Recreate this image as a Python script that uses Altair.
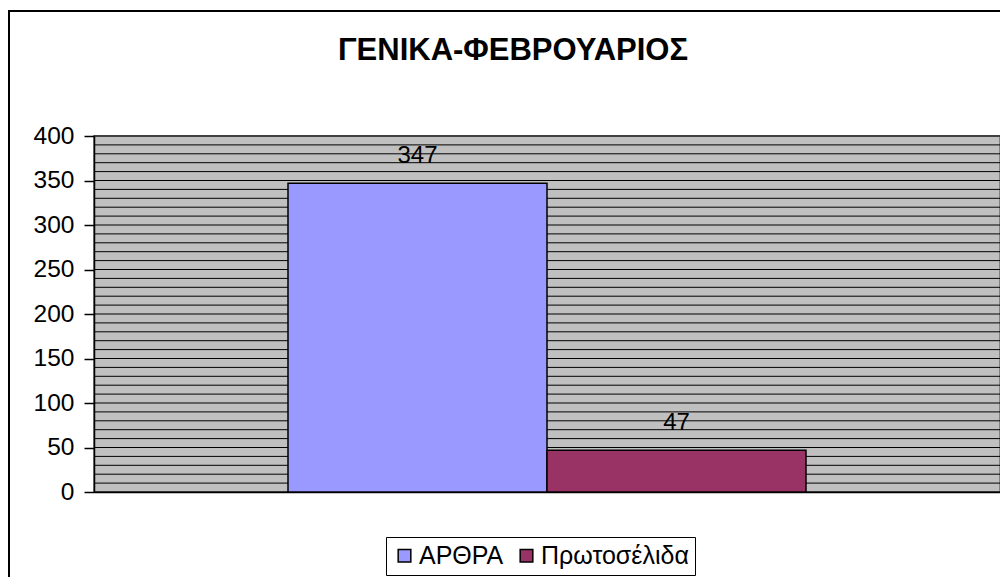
import altair as alt
import pandas as pd

# Data
categories = ["ΑΡΘΡΑ", "Πρωτοσέλιδα"]
values = [347, 47]
colors = ["#9999FF", "#993366"]
y_ticks = [0, 50, 100, 150, 200, 250, 300, 350, 400]
grid_values = list(range(0, 401, 10))

df = pd.DataFrame({"grp": ["g", "g"], "series": categories, "value": values})
grid_df = pd.DataFrame({"g": grid_values})

FONT = "Liberation Sans"

x_enc = alt.X("grp:N", axis=alt.Axis(labels=False, ticks=False, title=None, domainColor="black", domainWidth=1.5),
              scale=alt.Scale(paddingInner=0, paddingOuter=0.3745))
xoff = alt.XOffset("series:N", sort=categories, scale=alt.Scale(paddingInner=0, paddingOuter=0))
y_scale = alt.Scale(domain=[0, 400], nice=False)

grid = alt.Chart(grid_df).mark_rule(color="black", strokeWidth=1).encode(
    y=alt.Y("g:Q", scale=y_scale, axis=alt.Axis(values=y_ticks, title=None, grid=False,
                                                 labelFont=FONT, labelFontSize=24.5, labelColor="black",
                                                 tickColor="black", tickSize=10, tickWidth=1.5,
                                                 domainColor="black", domainWidth=1.5, labelPadding=10))
)

bars = alt.Chart(df).mark_bar(stroke="black", strokeWidth=1.5).encode(
    x=x_enc,
    xOffset=xoff,
    y=alt.Y("value:Q", scale=y_scale),
    color=alt.Color("series:N", sort=categories,
                    scale=alt.Scale(domain=categories, range=colors),
                    legend=alt.Legend(title=None, orient="none", direction="horizontal",
                                      legendX=292, legendY=401,
                                      labelFont=FONT, labelFontSize=25, labelColor="black",
                                      symbolType="square", symbolSize=160, symbolStrokeColor="black",
                                      symbolStrokeWidth=1.5, symbolOpacity=1, labelOffset=2,
                                      columnPadding=10, strokeColor="black", padding=6,
                                      fillColor="white")),
)

labels = alt.Chart(df).mark_text(font=FONT, fontSize=24, color="black", dy=-20, baseline="alphabetic").encode(
    x=x_enc,
    xOffset=xoff,
    y=alt.Y("value:Q", scale=y_scale),
    text="value:Q",
)

border = alt.Chart(alt.Data(values=[{}])).mark_rect(fill=None, stroke="black", strokeWidth=2).encode(
    x=alt.value(-85), x2=alt.value(1000), y=alt.value(-125), y2=alt.value(700)
)

chart = alt.layer(grid, bars, labels, border).properties(
    width=906,
    height=356,
    title=alt.TitleParams("ΓΕΝΙΚΑ-ΦΕΒΡΟΥΑΡΙΟΣ", font=FONT, fontSize=31, fontWeight="bold",
                          color="black", offset=-57, dx=-34, anchor="middle"),
    autosize=alt.AutoSizeParams(type="none"),
    padding={"left": 86, "top": 128, "right": 0, "bottom": 85},
    background="white",
).configure_view(fill="#C0C0C0", stroke="#808080", strokeWidth=2)

chart.save("out.html", embed_options={"renderer": "svg", "actions": False})
